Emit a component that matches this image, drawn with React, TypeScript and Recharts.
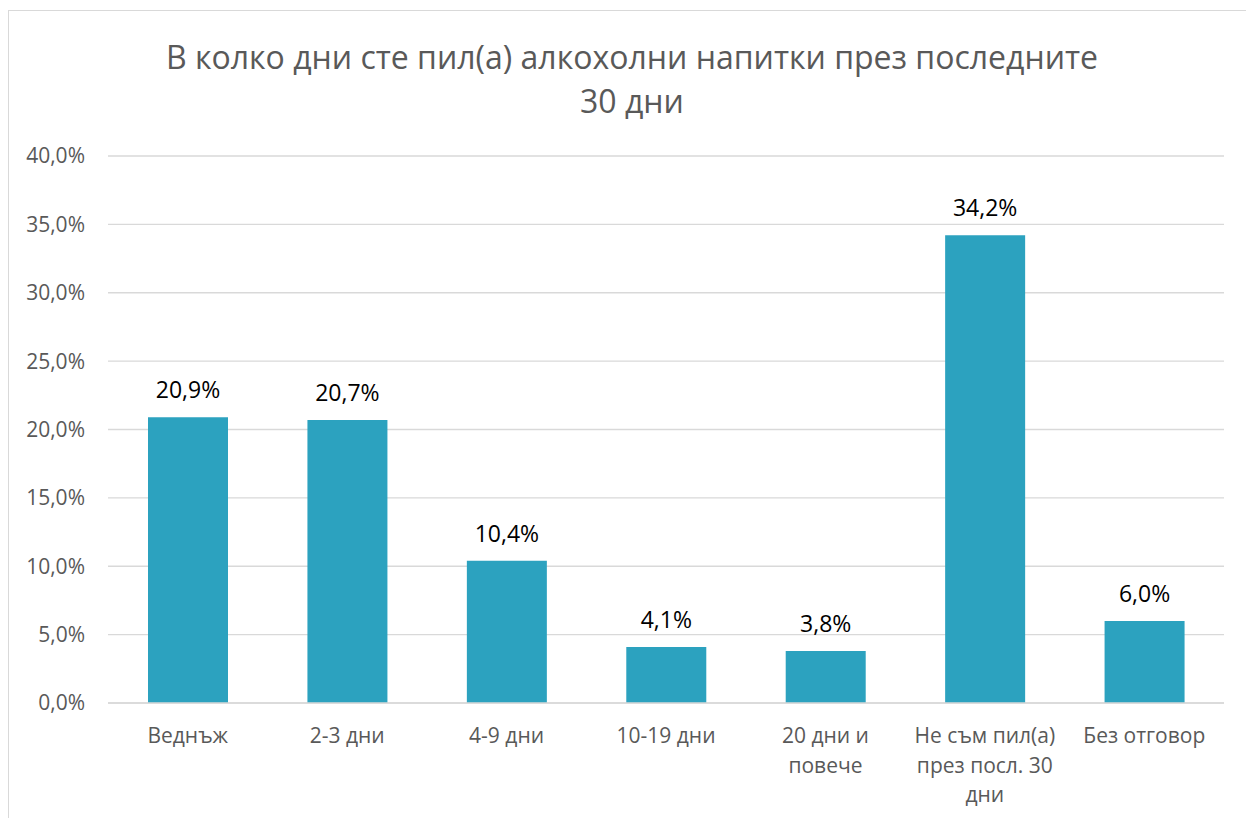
import React from 'react';
import { BarChart, Bar, XAxis, YAxis, CartesianGrid, LabelList } from 'recharts';

const categories = ['Веднъж', '2-3 дни', '4-9 дни', '10-19 дни', '20 дни и повече', 'Не съм пил(а) през посл. 30 дни', 'Без отговор'];
const categoryLines = [
  ['Веднъж'],
  ['2-3 дни'],
  ['4-9 дни'],
  ['10-19 дни'],
  ['20 дни и', 'повече'],
  ['Не съм пил(а)', 'през посл. 30', 'дни'],
  ['Без отговор'],
];
const percentages = [20.9, 20.7, 10.4, 4.1, 3.8, 34.2, 6.0];
const yTicks = [0, 5, 10, 15, 20, 25, 30, 35, 40];

const data = categories.map((name, i) => ({ name, pct: percentages[i] }));

const FONT = '"Open Sans", "Noto Sans", sans-serif';
const fmt = (v: number) => v.toFixed(1).replace('.', ',') + '%';

const CategoryTick = (props: any) => {
  const { x, y, index } = props;
  const lines = categoryLines[index] || [];
  return (
    <g transform={`translate(${x},${y})`}>
      {lines.map((line, i) => (
        <text
          key={i}
          x={0}
          y={32 + i * 29.5}
          textAnchor="middle"
          fill="#595959"
          fontSize={21}
          fontFamily={FONT}
        >
          {line}
        </text>
      ))}
    </g>
  );
};

export default function App() {
  return (
    <div style={{ position: 'absolute', left: 0, top: 0, width: 1246, height: 818, overflow: 'hidden', background: '#fff' }}>
      <div
        style={{
          position: 'absolute',
          left: 8,
          top: 10,
          width: 1300,
          height: 900,
          border: '1px solid #d9d9d9',
        }}
      />
      <div
        style={{
          position: 'absolute',
          left: 0,
          top: 35,
          width: 1264,
          textAlign: 'center',
          fontFamily: FONT,
          fontSize: 32,
          lineHeight: '44px',
          color: '#595959',
        }}
      >
        В колко дни сте пил(а) алкохолни напитки през последните
        <br />
        30 дни
      </div>
      <BarChart
        width={1246}
        height={818}
        data={data}
        margin={{ top: 156, right: 22, bottom: 0, left: 0 }}
        barSize={80}
        style={{ position: 'absolute', left: 0, top: 0 }}
      >
        <CartesianGrid vertical={false} stroke="#d9d9d9" strokeWidth={1.3} />
        <XAxis
          dataKey="name"
          height={115}
          axisLine={{ stroke: '#d9d9d9', strokeWidth: 1.3 }}
          tickLine={false}
          interval={0}
          tick={<CategoryTick />}
        />
        <YAxis
          width={108}
          domain={[0, 40]}
          ticks={yTicks}
          axisLine={false}
          tickLine={false}
          tickSize={0}
          tickMargin={23}
          tickFormatter={fmt}
          tick={{ fill: '#595959', fontSize: 21, fontFamily: FONT }}
        />
        <Bar dataKey="pct" fill="#2ca2bf" isAnimationActive={false}>
          <LabelList
            dataKey="pct"
            position="top"
            offset={19}
            formatter={(v: any) => fmt(Number(v))}
            fill="#000"
            fontSize={23}
            fontFamily={FONT}
          />
        </Bar>
      </BarChart>
    </div>
  );
}
